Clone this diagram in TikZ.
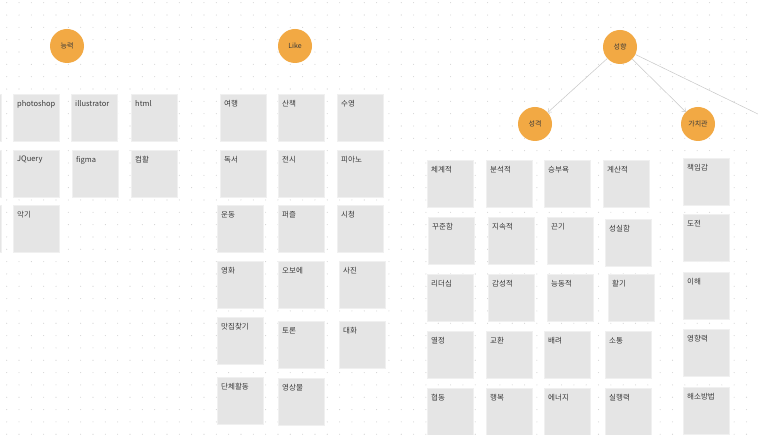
\documentclass[tikz,border=0pt]{standalone}
\usepackage{fontspec}
\setmainfont{Noto Sans CJK KR}
\usepackage{tikz}
\usetikzlibrary{positioning, arrows.meta}
\definecolor{cardgray}{HTML}{E5E5E5}
\definecolor{topicorange}{HTML}{F2A944}
\definecolor{labeltext}{HTML}{3A3A3A}
\definecolor{griddot}{HTML}{D2D2D2}

\begin{document}
\begin{tikzpicture}[
        x=1pt, y=-1pt,
        cardbox/.style={
          rectangle,
          draw=black!6,
          fill=cardgray,
          minimum width=46pt,
          minimum height=47pt,
          inner sep=0pt,
          anchor=north west
        },
        cardtext/.style={
          anchor=north west,
          inner sep=0pt,
          xshift=4pt,
          yshift=-6pt,
          text=labeltext,
          font=\fontsize{7.5}{9}\selectfont
        },
        card/.style={
          cardbox,
          label={[cardtext]north west:#1}
        },
        topic/.style={
          circle,
          fill=topicorange,
          minimum size=34pt,
          inner sep=0pt,
          text=labeltext,
          font=\fontsize{7}{8}\selectfont
        },
        arrow/.style={
          -{Straight Barb[length=3pt, width=5pt]},
          draw=black!22,
          line width=0.5pt
        }
      ]

      \useasboundingbox (0,0) rectangle (758,435);
      \clip (0,0) rectangle (758,435);
      \fill [white] (0,0) rectangle (758,435);

      % Dot grid
      \foreach \i in {0,...,61}
        \foreach \j in {0,...,35}
          \fill [griddot] (6.7+12.33*\i, 2.7+12.33*\j) circle (0.55pt);

      % Topics
      \node [topic] (ability) at (67,46) {능력};
      \node [topic] (like) at (295,46) {Like};
      \node [topic] (tendency) at (620,47) {성향};
      \node [topic] (character) at (535,124) {성격};
      \node [topic] (values) at (698,124) {가치관};

      % Ability cards
      \node [cardbox] (ab0) at (-45,94) {};
      \node [cardbox] (ab00) at (-45,150) {};
      \node [cardbox] (ab000) at (-45,205) {};
      \node [card=photoshop] (ab1) at (13,94) {};
      \node [card=illustrator] (ab2) at (71,94) {};
      \node [card=html] (ab3) at (131,94) {};
      \node [card=JQuery] (ab4) at (13,150) {};
      \node [card=figma] (ab5) at (72,150) {};
      \node [card=컴활] (ab6) at (131,150) {};
      \node [card=악기] (ab7) at (13,205) {};

      % Like cards
      \node [card=여행] (lk1) at (220,94) {};
      \node [card=산책] (lk2) at (278,94) {};
      \node [card=수영] (lk3) at (337,94) {};
      \node [card=독서] (lk4) at (220,150) {};
      \node [card=전시] (lk5) at (278,150) {};
      \node [card=피아노] (lk6) at (337,150) {};
      \node [card=운동] (lk7) at (217,205) {};
      \node [card=퍼즐] (lk8) at (278,205) {};
      \node [card=시청] (lk9) at (337,205) {};
      \node [card=영화] (lk10) at (217,261) {};
      \node [card=오보에] (lk11) at (278,261) {};
      \node [card=사진] (lk12) at (339,261) {};
      \node [card=맛집찾기] (lk13) at (217,317) {};
      \node [card=토론] (lk14) at (278,321) {};
      \node [card=대화] (lk15) at (339,321) {};
      \node [card=단체활동] (lk16) at (217,377) {};
      \node [card=영상물] (lk17) at (278,378) {};

      % Character cards
      \node [card=체계적] (ch1) at (427,160) {};
      \node [card=분석적] (ch2) at (486,160) {};
      \node [card=승부욕] (ch3) at (544,160) {};
      \node [card=계산적] (ch4) at (603,160) {};
      \node [card=꾸준함] (ch5) at (428,217) {};
      \node [card=지속적] (ch6) at (488,217) {};
      \node [card=끈기] (ch7) at (547,217) {};
      \node [card=성실함] (ch8) at (605,219) {};
      \node [card=리더십] (ch9) at (427,274) {};
      \node [card=감성적] (ch10) at (488,274) {};
      \node [card=능동적] (ch11) at (547,274) {};
      \node [card=활기] (ch12) at (608,274) {};
      \node [card=열정] (ch13) at (427,331) {};
      \node [card=교환] (ch14) at (486,331) {};
      \node [card=배려] (ch15) at (544,331) {};
      \node [card=소통] (ch16) at (605,331) {};
      \node [card=협동] (ch17) at (427,388) {};
      \node [card=행복] (ch18) at (486,388) {};
      \node [card=에너지] (ch19) at (544,388) {};
      \node [card=실행력] (ch20) at (605,388) {};

      % Values cards
      \node [card=책임감] (va1) at (683,158) {};
      \node [card=도전] (va2) at (683,214) {};
      \node [card=이해] (va3) at (683,272) {};
      \node [card=영향력] (va4) at (683,329) {};
      \node [card=해소방법] (va5) at (683,387) {};

      % Arrows
      \coordinate (offright) at (830,149);
      \draw [arrow] (tendency) -- (character);
      \draw [arrow] (tendency) -- (values);
      \draw [arrow] (tendency) -- (offright);

    \end{tikzpicture}
\end{document}
